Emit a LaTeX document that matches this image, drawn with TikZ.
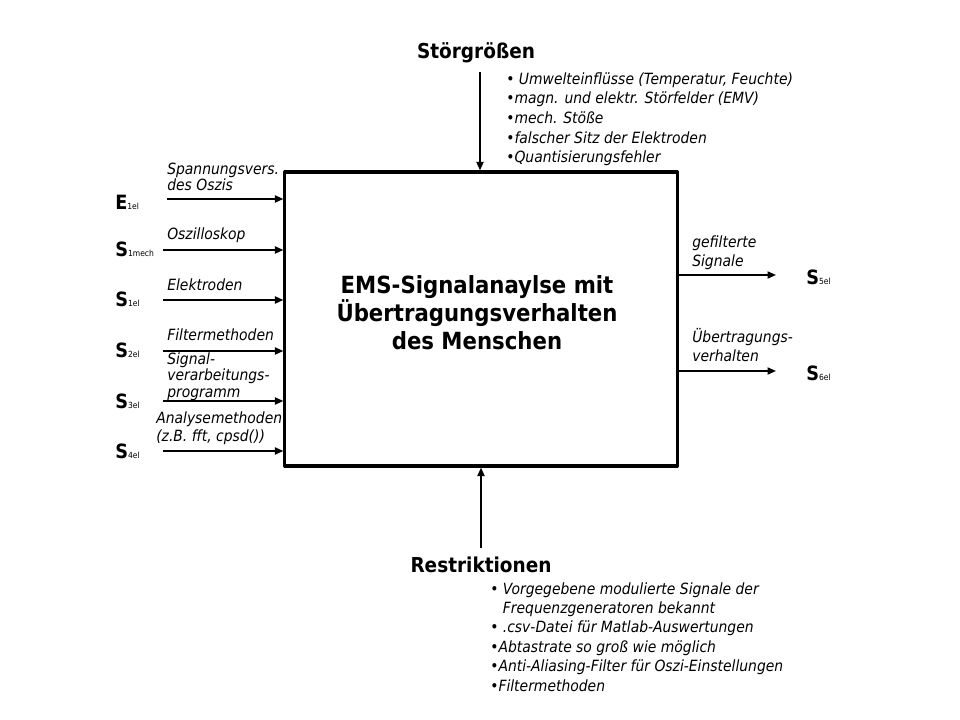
\documentclass[tikz,border=0pt]{standalone}
\usepackage{fontspec}
\setmainfont{DejaVu Sans Condensed}
\usetikzlibrary{arrows.meta}

\newcommand{\sublbl}[2]{{\fontsize{14}{14}\selectfont\bfseries #1}{\fontsize{6}{6}\selectfont #2}}

\tikzset{
  emsbox/.style={draw, line width=2.2pt, minimum width=9.8cm, minimum height=7.35cm},
  sig/.style={-{Triangle[length=6pt,width=5pt]}, line width=1.2pt},
  lbl/.style={anchor=north west, inner sep=0pt, align=left, font=\fontsize{11}{11}\selectfont\itshape},
  var/.style={anchor=base west, inner sep=0pt},
  head/.style={inner sep=0pt, font=\fontsize{14.6}{14.6}\selectfont\bfseries},
  bul/.style={anchor=north west, inner sep=0pt, align=left, font=\fontsize{11}{14}\selectfont\itshape},
}

\begin{document}
\begin{tikzpicture}[x=0.025cm, y=-0.025cm, line join = round]

\useasboundingbox (0,0) rectangle (960,720);

% central block
\node[emsbox] (ems) at (481,319) {};
\node[inner sep=0pt, align=center, font=\fontsize{16.8}{19.8}\selectfont\bfseries] (title) at (477,313) {EMS-Signalanaylse mit\\\"Ubertragungsverhalten\\des Menschen};

% disturbances (top)
\node[head] (stoer) at (476,53) {St\"orgr\"o\ss en};
\coordinate (stoerin) at (480,72);
\draw[sig] (stoerin) -- (stoerin |- ems.north);
\node[bul] (stoerlist) at (506,72) {\textbullet\ Umwelteinfl\"usse (Temperatur, Feuchte)\\\textbullet magn. und elektr. St\"orfelder (EMV)\\\textbullet mech. St\"o\ss e\\\textbullet falscher Sitz der Elektroden\\\textbullet Quantisierungsfehler};

% restrictions (bottom)
\node[head] (restr) at (481,565) {Restriktionen};
\coordinate (restrin) at (481,548);
\draw[sig] (restrin) -- (restrin |- ems.south);
\node[bul, font=\fontsize{11}{13.8}\selectfont\itshape] (restrlist) at (490,582) {\textbullet\ Vorgegebene modulierte Signale der\\\phantom{\textbullet\ }Frequenzgeneratoren bekannt\\\textbullet\ .csv-Datei f\"ur Matlab-Auswertungen\\\textbullet Abtastrate so gro\ss\ wie m\"oglich\\\textbullet Anti-Aliasing-Filter f\"ur Oszi-Einstellungen\\\textbullet Filtermethoden};

% inputs (left)
\coordinate (in1) at (167,199); % E1el
\coordinate (in2) at (163,250); % S1mech
\coordinate (in3) at (163,300); % S1el
\coordinate (in4) at (163,351); % S2el
\coordinate (in5) at (163,401); % S3el
\coordinate (in6) at (163,451); % S4el
\foreach \i in {1,...,6}
  \draw[sig] (in\i) -- (in\i -| ems.west);

\node[var] (e1el) at (115,210) {\sublbl{E}{1el}};
\node[var] (s1mech) at (115,257) {\sublbl{S}{1mech}};
\node[var] (s1el) at (115,307) {\sublbl{S}{1el}};
\node[var] (s2el) at (115,358) {\sublbl{S}{2el}};
\node[var] (s3el) at (115,409) {\sublbl{S}{3el}};
\node[var] (s4el) at (115,459) {\sublbl{S}{4el}};

\node[lbl] (spann) at (167,163) {Spannungsvers.\\des Oszis};
\node[lbl] (oszi) at (167,227) {Oszilloskop};
\node[lbl] (elek) at (167,278) {Elektroden};
\node[lbl] (filt) at (167,328) {Filtermethoden};
\node[lbl, font=\fontsize{11}{12}\selectfont\itshape] (prog) at (167,352) {Signal-\\verarbeitungs-\\programm};
\node[lbl, font=\fontsize{11}{12.8}\selectfont\itshape] (anal) at (156,411) {Analysemethoden\\(z.B. fft, cpsd())};

% outputs (right)
\coordinate (out1) at (776,275); % S5el
\coordinate (out2) at (776,371); % S6el
\draw[sig] (out1 -| ems.east) -- (out1);
\draw[sig] (out2 -| ems.east) -- (out2);

\node[var] (s5el) at (806,285) {\sublbl{S}{5el}};
\node[var] (s6el) at (806,381) {\sublbl{S}{6el}};

\node[lbl, font=\fontsize{11}{13.5}\selectfont\itshape] (gefilt) at (692,235) {gefilterte\\Signale};
\node[lbl, font=\fontsize{11}{13.5}\selectfont\itshape] (uebert) at (692,328) {\"Ubertragungs-\\verhalten};

\end{tikzpicture}
\end{document}
